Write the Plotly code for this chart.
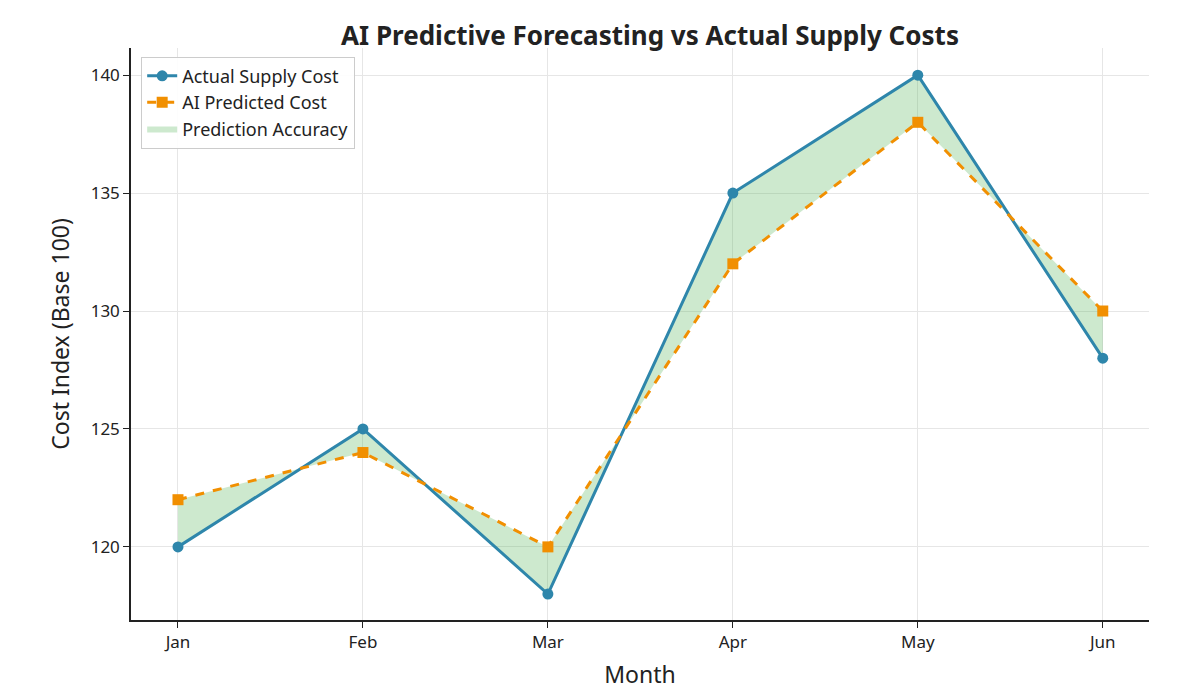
import plotly.graph_objects as go

months = ["Jan", "Feb", "Mar", "Apr", "May", "Jun"]
actual_cost = [120, 125, 118, 135, 140, 128]
predicted_cost = [122, 124, 120, 132, 138, 130]
y_ticks = [120, 125, 130, 135, 140]

idx = list(range(len(months)))

fig = go.Figure()

# shaded band between the two series
fig.add_trace(go.Scatter(
    x=idx + idx[::-1],
    y=actual_cost + predicted_cost[::-1],
    fill='toself',
    fillcolor='rgba(76,175,80,0.28)',
    line=dict(width=0, color='rgba(76,175,80,0.4)'),
    mode='lines',
    name='Prediction Accuracy',
    legendrank=3,
    hoverinfo='skip',
))

fig.add_trace(go.Scatter(
    x=idx, y=actual_cost,
    mode='lines+markers',
    name='Actual Supply Cost',
    legendrank=1,
    line=dict(color='#2E86AB', width=3),
    marker=dict(size=11, color='#2E86AB'),
))

fig.add_trace(go.Scatter(
    x=idx, y=predicted_cost,
    mode='lines+markers',
    name='AI Predicted Cost',
    legendrank=2,
    line=dict(color='#F18F01', width=3, dash='dash'),
    marker=dict(size=11, color='#F18F01', symbol='square'),
))

fig.update_layout(
    width=1200, height=700,
    paper_bgcolor='white', plot_bgcolor='white',
    font=dict(family='Noto Sans', size=17, color='#222'),
    title=dict(text='<b>AI Predictive Forecasting vs Actual Supply Costs</b>',
               x=0.535, xanchor='center', y=0.96, yanchor='middle', font=dict(size=26)),
    margin=dict(l=123, r=59, t=40, b=88),
    legend=dict(x=0.01, y=0.985, xanchor='left', yanchor='top',
                bordercolor='#ccc', borderwidth=1, bgcolor='rgba(255,255,255,0.9)',
                font=dict(size=18)),
    showlegend=True,
)

fig.update_xaxes(
    tickvals=idx, ticktext=months, range=[-0.254, 5.25],
    title=dict(text='Month', font=dict(size=23)),
    showgrid=True, gridcolor='#e6e6e6',
    showline=True, linecolor='#222', linewidth=1.5,
    ticks='outside', ticklen=6, tickcolor='#222',
    zeroline=False,
)
fig.update_yaxes(
    tickvals=y_ticks, range=[116.9, 141.15],
    title=dict(text='Cost Index (Base 100)', font=dict(size=23)),
    showgrid=True, gridcolor='#e6e6e6',
    showline=True, linecolor='#222', linewidth=1.5,
    ticks='outside', ticklen=6, tickcolor='#222',
    zeroline=False,
)

fig.write_html("out.html")
